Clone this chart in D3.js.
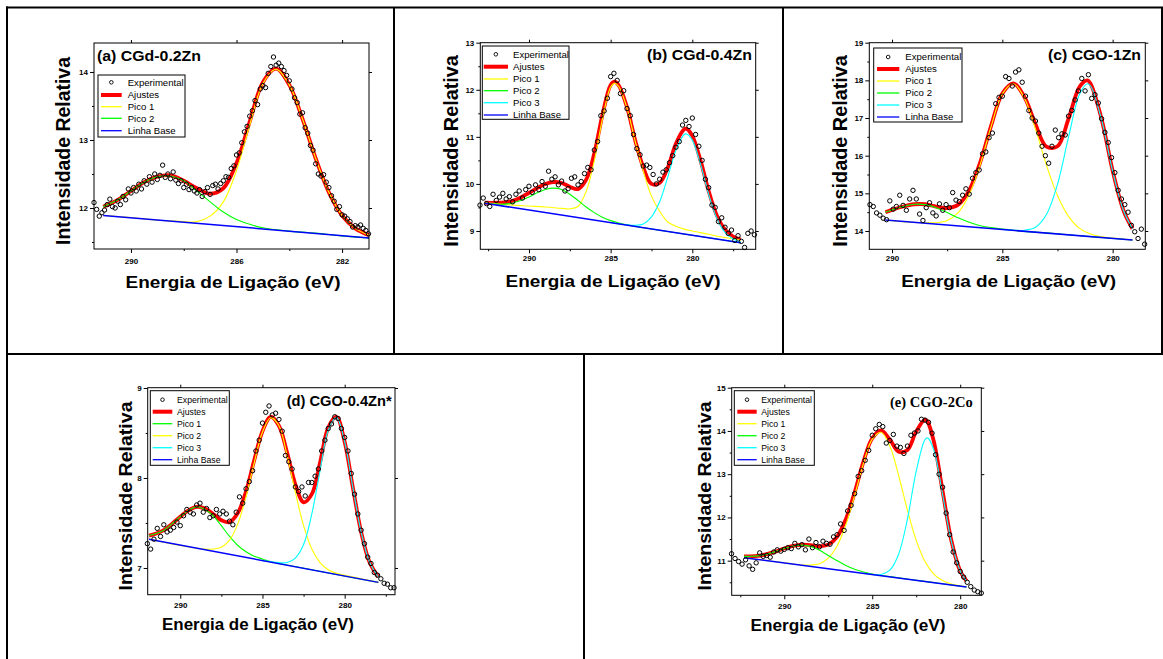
<!DOCTYPE html>
<html>
<head>
<meta charset="utf-8">
<script src="https://cdn.jsdelivr.net/npm/d3@7"></script>
<style>
  body { margin: 0; background: #fff; }
  svg { display: block; }
  text { font-family: "Liberation Sans", Arial, sans-serif; }
</style>
</head>
<body>
<svg id="fig" width="1163" height="659"></svg>
<script>
// ---------- C 1s spectra: experimental points, fitted envelope, components, baseline ----------

// (a) CGd-0.2Zn
const expA = [[291.4,12.08],[291.3,11.98],[291.2,11.88],[291.1,11.93],[291.0,11.97],[290.9,12.05],[290.8,12.13],[290.7,12.02],[290.6,12.00],[290.5,12.10],[290.4,12.05],[290.3,12.17],[290.2,12.12],[290.1,12.28],[290.0,12.22],[289.9,12.30],[289.8,12.25],[289.7,12.35],[289.6,12.28],[289.5,12.40],[289.4,12.35],[289.3,12.46],[289.2,12.38],[289.1,12.50],[289.0,12.42],[288.9,12.48],[288.8,12.63],[288.7,12.45],[288.6,12.50],[288.5,12.43],[288.4,12.53],[288.3,12.41],[288.2,12.36],[288.1,12.40],[288.0,12.30],[287.9,12.35],[287.8,12.27],[287.7,12.30],[287.6,12.25],[287.5,12.22],[287.4,12.27],[287.3,12.17],[287.2,12.24],[287.1,12.30],[287.0,12.20],[286.9,12.33],[286.8,12.35],[286.7,12.28],[286.6,12.36],[286.5,12.40],[286.4,12.46],[286.3,12.45],[286.2,12.58],[286.1,12.62],[286.0,12.78],[285.9,12.81],[285.8,12.96],[285.7,13.12],[285.6,13.20],[285.5,13.35],[285.4,13.43],[285.3,13.58],[285.2,13.52],[285.1,13.75],[285.0,13.80],[284.9,13.77],[284.8,13.98],[284.7,14.08],[284.6,14.22],[284.5,14.10],[284.4,14.13],[284.3,14.08],[284.2,14.02],[284.1,13.95],[284.0,13.87],[283.9,13.75],[283.8,13.62],[283.7,13.55],[283.6,13.38],[283.5,13.40],[283.4,13.18],[283.3,13.10],[283.2,12.92],[283.1,12.85],[283.0,12.65],[282.9,12.50],[282.8,12.47],[282.7,12.49],[282.6,12.38],[282.5,12.30],[282.4,12.18],[282.3,12.10],[282.2,11.98],[282.1,12.02],[282.0,11.90],[281.9,11.88],[281.8,11.84],[281.7,11.80],[281.6,11.72],[281.5,11.74],[281.4,11.72],[281.3,11.75],[281.2,11.70],[281.1,11.67],[281.0,11.62]];
const fitA = [[291.05,12.02],[290.5,12.12],[290.0,12.25],[289.5,12.38],[289.0,12.46],[288.5,12.48],[288.0,12.40],[287.5,12.29],[287.0,12.21],[286.5,12.29],[286.0,12.66],[285.5,13.27],[285.0,13.85],[284.5,14.05],[284.0,13.81],[283.5,13.31],[283.0,12.73],[282.5,12.23],[282.0,11.89],[281.5,11.70],[280.98,11.60]];
const pico1A = [[291.05,11.89],[290.0,11.86],[289.0,11.82],[288.5,11.81],[288.0,11.80],[287.5,11.80],[287.0,11.88],[286.5,12.09],[286.0,12.55],[285.5,13.22],[285.0,13.83],[284.5,14.04],[284.0,13.81],[283.5,13.31],[283.0,12.73],[282.5,12.23],[282.0,11.89],[281.5,11.70],[280.98,11.60]];
const pico2A = [[291.05,12.02],[290.5,12.12],[290.0,12.25],[289.5,12.38],[289.0,12.46],[288.5,12.47],[288.0,12.40],[287.5,12.25],[287.0,12.09],[286.5,11.94],[286.0,11.83],[285.5,11.76],[285.0,11.71],[284.5,11.68],[284.0,11.66],[283.0,11.63],[282.0,11.59],[280.98,11.56]];
const baseA = [[291.05,11.89],[280.98,11.56]];
const xTicksA = [290, 286, 282], xMinorA = [288, 284];
const yTicksA = [12, 13, 14], yMinorA = [11.5, 12.5, 13.5];
const legendA = ["Experimental", "Ajustes", "Pico 1", "Pico 2", "Linha Base"];

// (b) CGd-0.4Zn
const expB = [[293.0,9.55],[292.8,9.70],[292.6,9.58],[292.4,9.52],[292.2,9.78],[292.0,9.65],[291.8,9.72],[291.6,9.80],[291.4,9.68],[291.2,9.73],[291.0,9.62],[290.8,9.78],[290.6,9.85],[290.4,9.70],[290.2,9.88],[290.0,9.95],[289.8,9.82],[289.6,9.98],[289.4,9.88],[289.2,10.05],[289.0,9.95],[288.8,10.27],[288.6,10.10],[288.4,10.15],[288.2,9.98],[288.0,10.06],[287.8,9.85],[287.6,9.90],[287.4,10.12],[287.2,10.15],[287.0,9.98],[286.8,10.05],[286.6,10.22],[286.4,10.35],[286.2,10.30],[286.0,10.72],[285.8,10.90],[285.6,11.45],[285.4,11.55],[285.2,11.82],[285.0,12.28],[284.8,12.35],[284.6,12.20],[284.4,11.92],[284.2,11.98],[284.0,11.60],[283.8,11.45],[283.6,11.05],[283.4,10.75],[283.2,10.62],[283.0,10.38],[282.8,10.40],[282.6,10.35],[282.4,10.20],[282.2,10.00],[282.0,10.10],[281.8,10.25],[281.6,10.30],[281.4,10.45],[281.2,10.60],[281.0,10.78],[280.8,10.90],[280.6,11.25],[280.4,11.35],[280.2,11.22],[280.0,11.40],[279.8,11.05],[279.6,10.80],[279.4,10.50],[279.2,10.10],[279.0,9.92],[278.8,9.55],[278.6,9.50],[278.4,9.20],[278.2,9.28],[278.0,9.08],[277.8,8.95],[277.6,9.02],[277.4,8.80],[277.2,8.90],[277.0,8.78],[276.8,8.65],[276.6,8.95],[276.4,9.00],[276.2,8.92]];
const fitB = [[292.71,9.60],[292.0,9.60],[291.5,9.61],[291.0,9.64],[290.5,9.71],[290.0,9.81],[289.5,9.91],[289.0,10.00],[288.5,10.04],[288.0,10.02],[287.5,9.94],[287.0,9.89],[286.5,10.09],[286.0,10.65],[285.5,11.47],[285.0,12.10],[284.75,12.17],[284.5,12.09],[284.0,11.63],[283.5,10.93],[283.0,10.35],[282.5,10.00],[282.0,10.02],[281.5,10.35],[281.0,10.86],[280.5,11.16],[280.35,11.17],[280.0,11.02],[279.5,10.50],[279.0,9.85],[278.5,9.33],[278.0,9.03],[277.5,8.88],[277.04,8.82]];
const pico1B = [[292.71,9.60],[292.0,9.58],[291.0,9.55],[290.0,9.53],[289.0,9.51],[288.0,9.48],[287.5,9.47],[287.0,9.52],[286.5,9.84],[286.0,10.49],[285.5,11.38],[285.0,12.06],[284.75,12.14],[284.5,12.07],[284.0,11.61],[283.5,10.91],[283.0,10.27],[282.5,9.74],[282.0,9.42],[281.5,9.19],[281.0,9.10],[280.5,9.04],[280.0,9.00],[279.0,8.93],[278.0,8.86],[277.04,8.81]];
const pico2B = [[292.71,9.59],[292.0,9.57],[291.5,9.57],[291.0,9.59],[290.5,9.65],[290.0,9.72],[289.5,9.81],[289.0,9.88],[288.5,9.91],[288.0,9.88],[287.5,9.78],[287.0,9.65],[286.5,9.51],[286.0,9.39],[285.5,9.29],[285.0,9.22],[284.5,9.17],[284.0,9.13],[283.5,9.10],[283.0,9.07],[280.0,8.91],[277.04,8.75]];
const pico3B = [[285.0,9.18],[284.5,9.15],[284.0,9.13],[283.5,9.12],[283.0,9.15],[282.5,9.30],[282.0,9.62],[281.5,10.15],[281.0,10.72],[280.5,11.05],[280.35,11.06],[280.0,10.93],[279.5,10.42],[279.0,9.78],[278.5,9.27],[278.0,8.97],[277.5,8.83],[277.04,8.77]];
const baseB = [[292.71,9.59],[277.04,8.75]];
const xTicksB = [290, 285, 280], xMinorB = [292.5, 287.5, 282.5, 277.5];
const yTicksB = [9, 10, 11, 12, 13], yMinorB = [9.5, 10.5, 11.5, 12.5];
const legendB = ["Experimental", "Ajustes", "Pico 1", "Pico 2", "Pico 3", "Linha Base"];

// (c) CGO-1Zn
const expC = [[291.00,14.70],[290.85,14.65],[290.70,14.48],[290.55,14.42],[290.40,14.34],[290.25,14.30],[290.10,14.80],[289.95,14.58],[289.80,14.65],[289.65,14.95],[289.50,14.68],[289.35,14.55],[289.20,14.85],[289.05,15.08],[288.90,14.85],[288.75,14.45],[288.60,14.28],[288.45,14.62],[288.30,14.75],[288.15,14.48],[288.00,14.40],[287.85,14.72],[287.70,14.55],[287.55,14.70],[287.40,14.62],[287.25,15.02],[287.10,14.82],[286.95,14.78],[286.80,14.95],[286.65,15.12],[286.50,14.98],[286.35,15.40],[286.20,15.55],[286.05,15.62],[285.90,16.05],[285.75,16.10],[285.60,16.48],[285.45,16.60],[285.30,17.38],[285.15,17.55],[285.00,17.58],[284.85,18.10],[284.70,18.05],[284.55,17.85],[284.40,18.22],[284.25,18.28],[284.10,17.95],[283.95,17.58],[283.80,17.20],[283.65,17.00],[283.50,16.92],[283.35,16.60],[283.20,16.25],[283.05,16.00],[282.90,15.80],[282.75,16.25],[282.60,16.68],[282.45,16.48],[282.30,16.58],[282.15,16.55],[282.00,17.05],[281.85,17.20],[281.70,17.48],[281.55,17.72],[281.40,18.05],[281.25,17.72],[281.10,18.15],[280.95,17.52],[280.80,17.62],[280.65,17.40],[280.50,16.98],[280.35,16.62],[280.20,16.35],[280.05,15.95],[279.90,15.55],[279.75,15.08],[279.60,14.85],[279.45,14.70],[279.30,14.50],[279.15,14.15],[279.00,13.98],[278.85,13.80],[278.70,14.05],[278.55,13.65]];
const fitC = [[290.3,14.50],[290.0,14.56],[289.5,14.65],[289.0,14.71],[288.5,14.71],[288.0,14.65],[287.5,14.61],[287.0,14.70],[286.5,15.08],[286.0,15.83],[285.5,16.81],[285.0,17.65],[284.5,17.92],[284.0,17.56],[283.5,16.84],[283.0,16.24],[282.5,16.25],[282.0,16.98],[281.5,17.83],[281.15,18.00],[281.0,17.91],[280.5,16.97],[280.0,15.60],[279.5,14.53],[279.1,14.06]];
const pico1C = [[290.3,14.29],[289.5,14.25],[289.0,14.23],[288.5,14.22],[288.0,14.22],[287.5,14.28],[287.0,14.49],[286.5,14.97],[286.0,15.77],[285.5,16.79],[285.0,17.64],[284.5,17.91],[284.0,17.53],[283.5,16.71],[283.0,15.75],[282.5,14.94],[282.0,14.39],[281.5,14.07],[281.0,13.92],[280.5,13.85],[280.0,13.81],[279.1,13.76]];
const pico2C = [[290.3,14.50],[290.0,14.56],[289.5,14.65],[289.0,14.71],[288.5,14.70],[288.0,14.62],[287.5,14.49],[287.0,14.35],[286.5,14.23],[286.0,14.14],[285.5,14.09],[285.0,14.05],[284.5,14.02],[284.0,13.99],[283.0,13.95],[281.0,13.85],[279.1,13.76]];
const pico3C = [[285.0,14.04],[284.5,14.02],[284.0,14.02],[283.5,14.10],[283.0,14.44],[282.5,15.24],[282.0,16.49],[281.5,17.63],[281.15,17.91],[281.0,17.85],[280.5,16.95],[280.0,15.59],[279.5,14.53],[279.1,14.06]];
const baseC = [[290.30,14.29],[279.10,13.76]];
const xTicksC = [290, 285, 280], xMinorC = [287.5, 282.5];
const yTicksC = [14, 15, 16, 17, 18, 19], yMinorC = [14.5, 15.5, 16.5, 17.5, 18.5];
const legendC = ["Experimental", "Ajustes", "Pico 1", "Pico 2", "Pico 3", "Linha Base"];

// (d) CGO-0.4Zn*
const expD = [[292.0,7.27],[291.8,7.21],[291.6,7.32],[291.4,7.44],[291.2,7.35],[291.0,7.48],[290.8,7.40],[290.6,7.42],[290.4,7.45],[290.2,7.51],[290.0,7.47],[289.8,7.58],[289.6,7.65],[289.4,7.62],[289.2,7.60],[289.0,7.70],[288.8,7.72],[288.6,7.62],[288.4,7.66],[288.2,7.56],[288.0,7.58],[287.8,7.65],[287.6,7.60],[287.4,7.63],[287.2,7.60],[287.0,7.52],[286.8,7.48],[286.6,7.62],[286.4,7.79],[286.2,7.72],[286.0,7.88],[285.8,7.96],[285.6,8.08],[285.4,8.30],[285.2,8.42],[285.0,8.61],[284.8,8.73],[284.6,8.80],[284.4,8.70],[284.2,8.72],[284.0,8.65],[283.8,8.52],[283.6,8.25],[283.4,8.18],[283.2,8.10],[283.0,7.90],[282.8,7.85],[282.6,7.90],[282.4,7.80],[282.2,7.95],[282.0,7.95],[281.8,8.02],[281.6,8.10],[281.4,8.30],[281.2,8.42],[281.0,8.55],[280.8,8.60],[280.6,8.68],[280.4,8.66],[280.2,8.55],[280.0,8.45],[279.8,8.30],[279.6,8.05],[279.4,7.82],[279.2,7.60],[279.0,7.42],[278.8,7.27],[278.6,7.12],[278.4,7.05],[278.2,6.95],[278.0,6.92],[277.8,6.88],[277.6,6.83],[277.4,6.82],[277.2,6.78],[277.0,6.78]];
const fitD = [[291.9,7.36],[291.5,7.38],[291.0,7.42],[290.5,7.49],[290.0,7.57],[289.5,7.64],[289.0,7.68],[288.5,7.66],[288.0,7.60],[287.5,7.53],[287.0,7.51],[286.5,7.61],[286.0,7.85],[285.5,8.20],[285.0,8.52],[284.5,8.68],[284.0,8.58],[283.5,8.28],[283.0,7.93],[282.5,7.73],[282.0,7.82],[281.5,8.17],[281.0,8.56],[280.5,8.68],[280.0,8.40],[279.5,7.89],[279.0,7.40],[278.5,7.07],[277.95,6.90]];
const pico1D = [[291.9,7.36],[291.5,7.38],[291.0,7.42],[290.5,7.49],[290.0,7.57],[289.5,7.64],[289.0,7.68],[288.5,7.65],[288.0,7.58],[287.5,7.47],[287.0,7.35],[286.5,7.25],[286.0,7.18],[285.5,7.13],[285.0,7.10],[284.5,7.07],[284.0,7.05],[282.0,6.98],[277.95,6.84]];
const pico2D = [[291.9,7.32],[290.0,7.25],[289.0,7.22],[288.5,7.21],[288.0,7.21],[287.5,7.23],[287.0,7.31],[286.5,7.49],[286.0,7.79],[285.5,8.17],[285.0,8.51],[284.5,8.67],[284.0,8.58],[283.5,8.25],[283.0,7.84],[282.5,7.47],[282.0,7.21],[281.5,7.06],[281.0,6.98],[280.5,6.94],[280.0,6.92],[279.0,6.88],[277.95,6.84]];
const pico3D = [[285.0,7.08],[284.5,7.07],[284.0,7.06],[283.5,7.06],[283.0,7.11],[282.5,7.26],[282.0,7.60],[281.5,8.08],[281.0,8.53],[280.5,8.67],[280.0,8.40],[279.5,7.89],[279.0,7.40],[278.5,7.07],[277.95,6.90]];
const baseD = [[291.90,7.32],[277.95,6.84]];
const xTicksD = [290, 285, 280], xMinorD = [287.5, 282.5, 277.5];
const yTicksD = [7, 8, 9], yMinorD = [7.5, 8.5];
const legendD = ["Experimental", "Ajustes", "Pico 1", "Pico 2", "Pico 3", "Linha Base"];

// (e) CGO-2Co
const expE = [[293.0,11.16],[292.8,11.05],[292.6,10.98],[292.4,10.92],[292.2,11.02],[292.0,10.88],[291.8,10.80],[291.6,10.95],[291.4,11.18],[291.2,11.10],[291.0,11.12],[290.8,11.08],[290.6,11.20],[290.4,11.25],[290.2,11.22],[290.0,11.26],[289.8,11.30],[289.6,11.28],[289.4,11.40],[289.2,11.32],[289.0,11.37],[288.8,11.25],[288.6,11.50],[288.4,11.30],[288.2,11.42],[288.0,11.32],[287.8,11.45],[287.6,11.40],[287.4,11.38],[287.2,11.55],[287.0,11.60],[286.8,11.85],[286.6,11.70],[286.4,12.15],[286.2,12.28],[286.0,12.55],[285.8,12.95],[285.6,13.08],[285.4,13.32],[285.2,13.55],[285.0,13.90],[284.8,14.05],[284.6,14.15],[284.4,14.10],[284.2,13.72],[284.0,13.78],[283.8,13.92],[283.6,13.65],[283.4,13.62],[283.2,13.48],[283.0,13.65],[282.8,13.90],[282.6,13.95],[282.4,14.00],[282.2,14.27],[282.0,14.25],[281.8,14.20],[281.6,13.95],[281.4,13.45],[281.2,13.00],[281.0,12.70],[280.8,12.10],[280.6,11.60],[280.4,11.20],[280.2,10.95],[280.0,10.75],[279.8,10.62],[279.6,10.50],[279.4,10.40],[279.2,10.32],[279.0,10.28],[278.8,10.25]];
const fitE = [[292.29,11.10],[292.0,11.10],[291.5,11.11],[291.0,11.15],[290.5,11.21],[290.0,11.28],[289.5,11.34],[289.0,11.37],[288.5,11.36],[288.0,11.33],[287.5,11.37],[287.0,11.55],[286.5,11.96],[286.0,12.58],[285.5,13.29],[285.0,13.83],[284.5,14.01],[284.0,13.80],[283.5,13.52],[283.0,13.56],[282.5,13.99],[282.0,14.26],[281.85,14.21],[281.5,13.76],[281.0,12.61],[280.5,11.46],[280.0,10.76],[279.64,10.53]];
const pico1E = [[292.29,11.07],[290.0,10.95],[289.0,10.90],[288.5,10.90],[288.0,10.93],[287.5,11.06],[287.0,11.34],[286.5,11.83],[286.0,12.51],[285.5,13.25],[285.0,13.81],[284.5,13.97],[284.0,13.65],[283.5,12.97],[283.0,12.17],[282.5,11.47],[282.0,10.98],[281.5,10.69],[281.0,10.54],[280.5,10.46],[280.0,10.42],[279.64,10.39]];
const pico2E = [[292.29,11.10],[292.0,11.10],[291.5,11.11],[291.0,11.15],[290.5,11.21],[290.0,11.28],[289.5,11.34],[289.0,11.36],[288.5,11.33],[288.0,11.24],[287.5,11.12],[287.0,11.00],[286.5,10.89],[286.0,10.80],[285.5,10.74],[285.0,10.69],[284.5,10.66],[284.0,10.63],[282.0,10.52],[279.64,10.39]];
const pico3E = [[285.5,10.71],[285.0,10.68],[284.5,10.68],[284.0,10.78],[283.5,11.15],[283.0,11.96],[282.5,13.07],[282.0,13.80],[281.85,13.84],[281.5,13.56],[281.0,12.53],[280.5,11.44],[280.0,10.76],[279.64,10.52]];
const baseE = [[292.29,11.07],[279.64,10.39]];
const xTicksE = [290, 285, 280], xMinorE = [292.5, 287.5, 282.5];
const yTicksE = [11, 12, 13, 14, 15], yMinorE = [10.5, 11.5, 12.5, 13.5, 14.5];
const legendE = ["Experimental", "Ajustes", "Pico 1", "Pico 2", "Pico 3", "Linha Base"];

// ---------- styling ----------
const RED = "#ff0000", YEL = "#ffff00", GRN = "#00ff00", CYA = "#00ffff", BLU = "#0000ff";
const SANS = '"Liberation Sans", Arial, sans-serif';
const SERIF = '"Liberation Serif", "Times New Roman", serif';

const panels = [
  { title: "(a) CGd-0.2Zn", titleFont: SANS, titleX: 97, titleY: 60.5, titleAnchor: "start", titleLen: 104,
    frame: { l: 94, r: 369, t: 43, b: 249 }, xDom: [291.40, 280.98], yDom: [11.397, 14.426],
    xTicks: xTicksA, xMinor: xMinorA, yTicks: yTicksA, yMinor: yMinorA, xPad: 5,
    exp: expA, fit: fitA, peaks: [[pico1A, YEL], [pico2A, GRN]], base: baseA,
    legend: { labels: legendA, colors: [null, RED, YEL, GRN, BLU], box: [98, 75, 185, 137],
              rows: [82.3, 95, 106.7, 118.3, 130.7], line: [101, 121.7], text: 127.7, fs: 9.6 },
    yLab: { x: 63, y: 151, len: 188, fs: 20 }, xLab: { x: 233, y: 288.3, len: 215, fs: 17 } },
  { title: "(b) CGd-0.4Zn", titleFont: SANS, titleX: 752, titleY: 60, titleAnchor: "end", titleLen: 105,
    frame: { l: 480.3, r: 755.7, t: 42.7, b: 249.3 }, xDom: [292.98, 276.12], yDom: [8.611, 13.0],
    xTicks: xTicksB, xMinor: xMinorB, yTicks: yTicksB, yMinor: yMinorB, xPad: 2,
    exp: expB, fit: fitB, peaks: [[pico1B, YEL], [pico2B, GRN], [pico3B, CYA]], base: baseB,
    legend: { labels: legendB, colors: [null, RED, YEL, GRN, CYA, BLU], box: [482.3, 46, 569, 119.3],
              rows: [54.3, 66.7, 79, 90.7, 102.7, 115], line: [483.7, 508], text: 513, fs: 9.6 },
    yLab: { x: 450.3, y: 151, len: 191.7, fs: 20 }, xLab: { x: 613, y: 287.3, len: 215, fs: 17 } },
  { title: "(c) CGO-1Zn", titleFont: SANS, titleX: 1141, titleY: 60, titleAnchor: "end", titleLen: 93,
    frame: { l: 869.3, r: 1145.3, t: 42.7, b: 249.3 }, xDom: [291.03, 278.52], yDom: [13.514, 19.0],
    xTicks: xTicksC, xMinor: xMinorC, yTicks: yTicksC, yMinor: yMinorC, xPad: 2,
    exp: expC, fit: fitC, peaks: [[pico1C, YEL], [pico2C, GRN], [pico3C, CYA]], base: baseC,
    legend: { labels: legendC, colors: [null, RED, YEL, GRN, CYA, BLU], box: [873.7, 48, 962, 122],
              rows: [57, 69, 81, 93, 105, 117], line: [877, 899.3], text: 905.3, fs: 9.6 },
    yLab: { x: 839.3, y: 151, len: 191.7, fs: 20 }, xLab: { x: 1008.7, y: 287, len: 215, fs: 17 } },
  { title: "(d) CGO-0.4Zn*", titleFont: SANS, titleX: 391.7, titleY: 406, titleAnchor: "end", titleLen: 105,
    frame: { l: 147.7, r: 395, t: 387.7, b: 594.7 }, xDom: [291.98, 276.94], yDom: [6.703, 9.003],
    xTicks: xTicksD, xMinor: xMinorD, yTicks: yTicksD, yMinor: yMinorD, xPad: 4,
    exp: expD, fit: fitD, peaks: [[pico1D, GRN], [pico2D, YEL], [pico3D, CYA]], base: baseD,
    legend: { labels: legendD, colors: [null, RED, GRN, YEL, CYA, BLU], box: [150.3, 390.7, 229.3, 465.3],
              rows: [399.7, 411.7, 423.7, 435.7, 447.7, 459.7], line: [152.7, 172.3], text: 177, fs: 8.7 },
    yLab: { x: 125, y: 496, len: 189, fs: 18 }, xLab: { x: 258, y: 630.3, len: 192, fs: 17 } },
  { title: "(e) CGO-2Co", titleFont: SERIF, titleX: 972.7, titleY: 407, titleAnchor: "end", titleLen: 82.7,
    frame: { l: 731.7, r: 981.3, t: 387.7, b: 595.3 }, xDom: [292.99, 278.8], yDom: [10.199, 15.0],
    xTicks: xTicksE, xMinor: xMinorE, yTicks: yTicksE, yMinor: yMinorE, xPad: 4,
    exp: expE, fit: fitE, peaks: [[pico1E, YEL], [pico2E, GRN], [pico3E, CYA]], base: baseE,
    legend: { labels: legendE, colors: [null, RED, YEL, GRN, CYA, BLU], box: [734.3, 390.7, 814.3, 465.3],
              rows: [399.7, 411.7, 423.7, 435.7, 447.7, 459.7], line: [737.3, 756.7], text: 761.3, fs: 8.7 },
    yLab: { x: 704, y: 496, len: 189, fs: 18 }, xLab: { x: 848, y: 631, len: 195, fs: 17 } }
];

const svg = d3.select("#fig");
svg.append("rect").attr("width", 1163).attr("height", 659).attr("fill", "#fff");

// ---------- table rules around the five panels ----------
const rules = [
  [6, 7.5, 1163, 7.5], [7, 6.5, 7, 659],
  [394, 7.5, 394, 354], [783, 7.5, 783, 354], [1162, 7.5, 1162, 354],
  [6, 354, 1163, 354], [584, 354, 584, 659]
];
svg.append("g").selectAll("line").data(rules).join("line")
  .attr("x1", d => d[0]).attr("y1", d => d[1]).attr("x2", d => d[2]).attr("y2", d => d[3])
  .attr("stroke", "#000").attr("stroke-width", 2);

function drawPanel(p) {
  const f = p.frame;
  const g = svg.append("g");
  const x = d3.scaleLinear().domain(p.xDom).range([f.l, f.r]);
  const y = d3.scaleLinear().domain(p.yDom).range([f.b, f.t]);
  const line = d3.line().x(d => x(d[0])).y(d => y(d[1])).curve(d3.curveCatmullRom.alpha(0.5));

  // axes: major + minor ticks, labels bottom/left, mirrored majors top/right
  const styleAxis = sel => {
    sel.select(".domain").remove();
    sel.selectAll("line").attr("stroke", "#000").attr("stroke-width", 1);
    sel.selectAll("text").style("font-family", SANS).style("font-weight", "bold")
      .style("font-size", "8px").attr("fill", "#000");
  };
  g.append("g").attr("transform", `translate(0,${f.b})`)
    .call(d3.axisBottom(x).tickValues(p.xTicks).tickSize(4).tickPadding(p.xPad).tickFormat(d3.format("d"))).call(styleAxis);
  g.append("g").attr("transform", `translate(0,${f.b})`)
    .call(d3.axisBottom(x).tickValues(p.xMinor).tickSize(2).tickFormat("")).call(styleAxis);
  g.append("g").attr("transform", `translate(0,${f.t})`)
    .call(d3.axisTop(x).tickValues(p.xTicks).tickSize(3).tickFormat("")).call(styleAxis);
  g.append("g").attr("transform", `translate(${f.l},0)`)
    .call(d3.axisLeft(y).tickValues(p.yTicks).tickSize(4).tickPadding(2).tickFormat(d3.format("d"))).call(styleAxis);
  g.append("g").attr("transform", `translate(${f.l},0)`)
    .call(d3.axisLeft(y).tickValues(p.yMinor).tickSize(2).tickFormat("")).call(styleAxis);
  g.append("g").attr("transform", `translate(${f.r},0)`)
    .call(d3.axisRight(y).tickValues(p.yTicks).tickSize(3).tickFormat("")).call(styleAxis);

  // fitted envelope, components, baseline
  g.append("path").datum(p.fit).attr("d", line).attr("fill", "none")
    .attr("stroke", RED).attr("stroke-width", 3.8).attr("stroke-linejoin", "round");
  p.peaks.forEach(([data, color]) => {
    g.append("path").datum(data).attr("d", line).attr("fill", "none")
      .attr("stroke", color).attr("stroke-width", 1.1);
  });
  g.append("path").datum(p.base).attr("d", d3.line().x(d => x(d[0])).y(d => y(d[1])))
    .attr("fill", "none").attr("stroke", BLU).attr("stroke-width", 1.5);

  // experimental points
  g.append("g").selectAll("circle").data(p.exp).join("circle")
    .attr("cx", d => x(d[0])).attr("cy", d => y(d[1])).attr("r", 2.2)
    .attr("fill", "none").attr("stroke", "#000").attr("stroke-width", 1);

  // frame
  g.append("rect").attr("x", f.l).attr("y", f.t).attr("width", f.r - f.l).attr("height", f.b - f.t)
    .attr("fill", "none").attr("stroke", "#000").attr("stroke-width", 1);

  // legend
  const L = p.legend;
  g.append("rect").attr("x", L.box[0]).attr("y", L.box[1])
    .attr("width", L.box[2] - L.box[0]).attr("height", L.box[3] - L.box[1])
    .attr("fill", "#fff").attr("stroke", "#000").attr("stroke-width", 1);
  L.labels.forEach((lab, i) => {
    const ry = L.rows[i];
    if (i === 0) {
      g.append("circle").attr("cx", (L.line[0] + L.line[1]) / 2).attr("cy", ry).attr("r", 1.8)
        .attr("fill", "none").attr("stroke", "#000").attr("stroke-width", 0.9);
    } else {
      g.append("line").attr("x1", L.line[0]).attr("x2", L.line[1]).attr("y1", ry).attr("y2", ry)
        .attr("stroke", L.colors[i]).attr("stroke-width", i === 1 ? 4 : 1.3);
    }
    g.append("text").attr("x", L.text).attr("y", ry).attr("dy", "0.35em")
      .style("font-size", L.fs + "px").attr("fill", "#000").text(lab);
  });

  // panel title
  g.append("text").attr("x", p.titleX).attr("y", p.titleY).attr("text-anchor", p.titleAnchor)
    .style("font-family", p.titleFont).style("font-weight", "bold").style("font-size", "15px")
    .attr("textLength", p.titleLen).attr("lengthAdjust", "spacingAndGlyphs").text(p.title);

  // axis titles
  g.append("text").attr("transform", `translate(${p.yLab.x},${p.yLab.y}) rotate(-90)`)
    .attr("y", 0.365 * p.yLab.fs).attr("text-anchor", "middle").style("font-weight", "bold")
    .style("font-size", p.yLab.fs + "px").attr("textLength", p.yLab.len).attr("lengthAdjust", "spacingAndGlyphs")
    .text("Intensidade Relativa");
  g.append("text").attr("x", p.xLab.x).attr("y", p.xLab.y).attr("text-anchor", "middle")
    .style("font-weight", "bold").style("font-size", p.xLab.fs + "px")
    .attr("textLength", p.xLab.len).attr("lengthAdjust", "spacingAndGlyphs")
    .text("Energia de Ligação (eV)");
}

panels.forEach(drawPanel);
</script>
</body>
</html>
